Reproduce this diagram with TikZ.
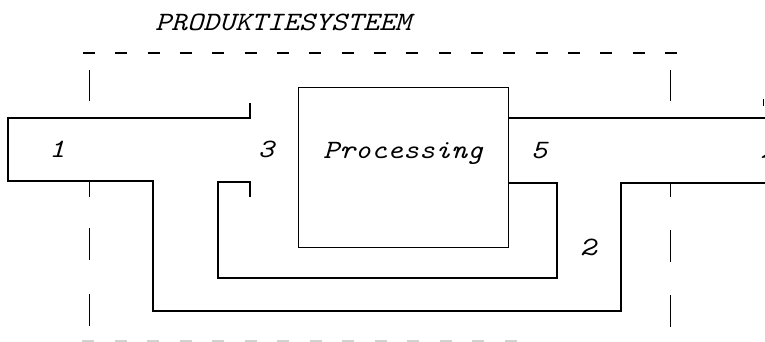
\documentclass[tikz,border=0pt]{standalone}
\usepackage{fontspec}
\usepackage{graphicx}
\begin{document}
\begin{tikzpicture}[x=1pt,y=-1pt,
  flow/.style={line width=1.1pt, line join=miter},
  sysb/.style={line width=0.9pt},
  lbl/.style={font=\fontsize{26.5}{30}\selectfont\ttfamily\itshape, inner sep=0pt, anchor=base}]
\newcommand{\cw}[1]{\scalebox{1.15}[1]{#1}}
\useasboundingbox (0,0) rectangle (765,341);
% title
\node[lbl] (title) at (283,30) {\cw{PRODUKTIESYSTEEM}};
% system boundary
\draw[sysb, line width=1.3pt, dash pattern=on 12pt off 20.33pt] (83,53) -- (678,53);
\draw[line width=2pt, gray!35, dash pattern=on 12pt off 20.5pt] (82,340.5) -- (518,340.5);
\foreach \a/\b in {70/101,182/197,228/260,294/326}
  \draw[sysb] (89.5,\a) -- (89.5,\b);
\foreach \a/\b in {70/101,183/197,230/262,295/327}
  \draw[sysb] (670,\a) -- (670,\b);
% processing box
\node[draw, flow, minimum width=210pt, minimum height=160pt, anchor=north west, inner sep=0pt] (proc) at (298,87) {};
\node[lbl] (ptext) at (403,158) {\cw{Processing}};
\coordinate (pout1) at (proc.east |- 0,118);
\coordinate (pout2) at (proc.east |- 0,183);
% main flow 1 -> 2
\draw[flow] (250,103) -- (250,118) -- (8,118) -- (8,181) -- (153,181) -- (153,311) -- (621,311) -- (621,183) -- (765,183);
% flow 4
\draw[flow] (pout1) -- (765,118);
% recycle 5
\draw[flow] (pout2) -- (557,183) -- (557,278) -- (218,278) -- (218,182) -- (250,182) -- (250,197);
\draw[sysb] (763,99) -- (763,106);
% labels
\node[lbl] (l1) at (57,157) {\cw{1}};
\node[lbl] (l3) at (266,157) {\cw{3}};
\node[lbl] (l5) at (539,158) {\cw{5}};
\node[lbl] (l2) at (588,255) {\cw{2}};
\node[lbl] (l4) at (769,158) {\cw{4}};
\end{tikzpicture}
\end{document}
